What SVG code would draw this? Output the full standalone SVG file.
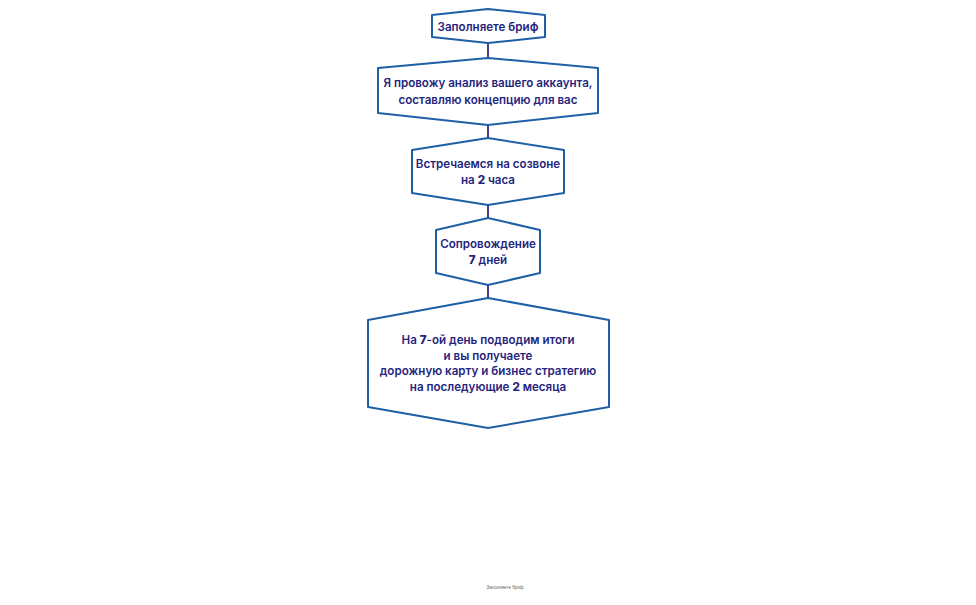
<svg xmlns="http://www.w3.org/2000/svg" width="976" height="605" viewBox="0 0 976 605">
<style>
.shape{fill:#ffffff;stroke:#1f5fa6;stroke-width:2;stroke-linejoin:round}
.conn{stroke:#3f3f95;stroke-width:2;fill:none}
.t{font-family:Inter,"Noto Sans",sans-serif;font-size:11.6px;font-weight:600;fill:#25257e;text-anchor:middle}
.b{font-weight:800}
.foot{font-family:"Liberation Sans",Arial,sans-serif;font-size:4.5px;fill:#666;text-anchor:middle}
</style>
<rect width="976" height="605" fill="#ffffff"/>
<g id="connectors">
<line class="conn" x1="488" y1="43" x2="488" y2="58"/>
<line class="conn" x1="488" y1="125" x2="488" y2="138"/>
<line class="conn" x1="488" y1="205" x2="488" y2="218"/>
<line class="conn" x1="488" y1="285" x2="488" y2="298"/>
</g>
<g id="node1">
<polygon class="shape" points="488,9 545,15 545,37 488,43 432,37 432,15"/>
<text class="t" x="488" y="30.5">Заполняете бриф</text>
</g>
<g id="node2">
<polygon class="shape" points="488,58 598,68 598,113 488,125 378,113 378,68"/>
<text class="t" x="488" y="87">Я провожу анализ вашего аккаунта,</text>
<text class="t" x="488" y="103.5">составляю концепцию для вас</text>
</g>
<g id="node3">
<polygon class="shape" points="488,138 564,150 564,193 488,205 412,193 412,150"/>
<text class="t" x="488" y="168">Встречаемся на созвоне</text>
<text class="t" x="488" y="184">на <tspan class="b">2</tspan> часа</text>
</g>
<g id="node4">
<polygon class="shape" points="488,218 540,230 540,273 488,285 436,273 436,230"/>
<text class="t" x="488" y="248">Сопровождение</text>
<text class="t" x="488" y="264"><tspan class="b">7</tspan> дней</text>
</g>
<g id="node5">
<polygon class="shape" points="488,298 609,320 609,407 488,428 368,407 368,320"/>
<text class="t" x="488" y="344">На <tspan class="b">7</tspan>-ой день подводим итоги</text>
<text class="t" x="488" y="359.5">и вы получаете</text>
<text class="t" x="488" y="375">дорожную карту и бизнес стратегию</text>
<text class="t" x="488" y="390.5">на последующие <tspan class="b">2</tspan> месяца</text>
</g>
<text class="foot" x="505" y="589">Заполняете бриф</text>
</svg>
